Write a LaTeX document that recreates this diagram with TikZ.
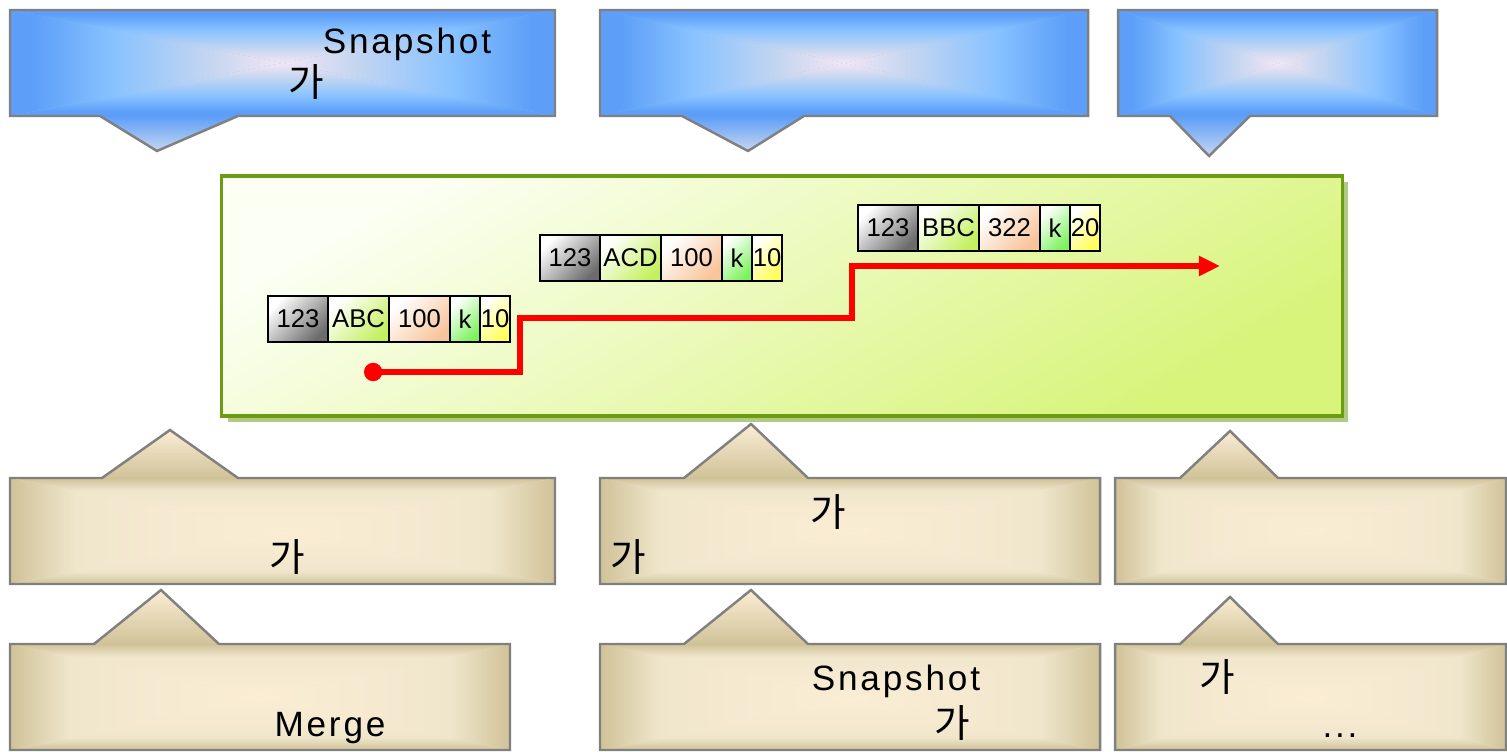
\documentclass[tikz,border=0pt]{standalone}
\usepackage{fontspec}
\setmainfont{Liberation Sans}
\newfontfamily\krfont{Noto Sans CJK KR}
\usepackage{tikz}
\usetikzlibrary{arrows.meta,positioning,shadows}

\definecolor{calloutblue}{HTML}{5C9EF8}
\definecolor{calloutsky}{HTML}{88C2FF}
\definecolor{calloutpale}{HTML}{C6D6F0}
\definecolor{calloutpink}{HTML}{F4E6F4}
\definecolor{callouttan}{HTML}{D0C298}
\definecolor{calloutbeige}{HTML}{EFE6CC}
\definecolor{calloutcream}{HTML}{FAEDD4}
\definecolor{calloutedge}{HTML}{808080}
\definecolor{panelgreen}{HTML}{6C9C12}
\definecolor{paneltop}{HTML}{FCFFF4}
\definecolor{panelbottom}{HTML}{D8F47A}
\definecolor{shadowgreen}{HTML}{B2CA84}
\definecolor{cellgray}{HTML}{6C6C6C}
\definecolor{cellabc}{HTML}{C4F060}
\definecolor{cellnum}{HTML}{F8C49A}
\definecolor{cellk}{HTML}{7CF25C}
\definecolor{cellten}{HTML}{FFFF58}

% edge at the top (75bp), centre at the bottom (25bp)
\pgfdeclareverticalshading{bluefall}{100bp}{color(0bp)=(calloutpink); color(25bp)=(calloutpink); color(38bp)=(calloutpale); color(56bp)=(calloutsky); color(71bp)=(calloutblue); color(100bp)=(calloutblue)}
\pgfdeclareverticalshading{tanfall}{100bp}{color(0bp)=(calloutcream); color(25bp)=(calloutcream); color(50bp)=(calloutbeige!50!calloutcream); color(63bp)=(calloutbeige); color(75bp)=(callouttan); color(100bp)=(callouttan)}

\begin{document}
\begin{tikzpicture}[x=0.01cm,y=-0.01cm,
  outline/.style={draw=calloutedge,line width=0.7pt},
  label/.style={inner sep=0pt,anchor=base,font=\fontsize{10}{12}\selectfont\addfontfeature{LetterSpace=8}},
  hangul/.style={inner sep=0pt,font=\krfont\fontsize{11}{12}\selectfont},
  panel/.style={draw=panelgreen,line width=1pt,minimum width=11.2cm,minimum height=2.4cm,top color=paneltop,bottom color=panelbottom,shading angle=30,drop shadow={shadow xshift=0.06cm,shadow yshift=-0.06cm,fill=shadowgreen,opacity=1}},
  cell/.style={draw=black,line width=0.6pt,outer sep=0pt,inner sep=0pt,minimum height=0.46cm,font=\fontsize{7.3}{8}\selectfont},
  cgray/.style={cell,minimum width=0.6cm,top color=white,bottom color=cellgray,shading angle=45},
  cabc/.style={cell,minimum width=0.61cm,top color=white,bottom color=cellabc,shading angle=45},
  cnum/.style={cell,minimum width=0.61cm,top color=white,bottom color=cellnum,shading angle=45},
  ck/.style={cell,minimum width=0.3cm,top color=white,bottom color=cellk,shading angle=45},
  cten/.style={cell,minimum width=0.3cm,top color=white,bottom color=cellten,shading angle=45},
  trail/.style={red,line width=1.7pt,{Circle[length=5.2pt]}-{Triangle[length=6pt,width=5.4pt]}}]
\useasboundingbox (0,0) rectangle (1507,752);

% top callouts
\foreach \lx/\rx/\ba/\tx/\bb/\tipy in {10/555/100/157/238/151, 600/1088/682/748/804/151, 1118/1437/1170/1209/1250/156}{
  \coordinate (mid) at ({(\lx+\rx)/2},63);
  \fill[calloutsky] (\lx,10) rectangle (\rx,116);
  \shade[shading=bluefall] (\lx,10) -- (\rx,10) -- (mid) -- cycle;
  \shade[shading=bluefall,shading angle=90] (\lx,10) -- (\lx,116) -- (mid) -- cycle;
  \shade[shading=bluefall,shading angle=180] (\lx,116) -- (\rx,116) -- (mid) -- cycle;
  \shade[shading=bluefall,shading angle=270] (\rx,10) -- (\rx,116) -- (mid) -- cycle;
  \shade[top color=calloutblue,bottom color=calloutpale] (\ba,116) -- (\bb,116) -- (\tx,\tipy) -- cycle;
  \draw[outline] (\lx,10) -- (\rx,10) -- (\rx,116) -- (\bb,116) -- (\tx,\tipy) -- (\ba,116) -- (\lx,116) -- cycle;
}

% bottom callouts
\foreach \lx/\rx/\ba/\tx/\bb/\ty/\by/\tipy in {10/555/102/170/238/478/584/430, 600/1100/684/751/808/478/584/424, 1115/1506/1180/1230/1278/478/584/431,
  10/510/94/161/219/644/750/590, 600/1100/684/751/808/644/750/590, 1115/1506/1180/1230/1278/644/750/597}{
  \coordinate (mid) at ({(\lx+\rx)/2},{(\ty+\by)/2});
  \fill[calloutbeige] (\lx,\ty) rectangle (\rx,\by);
  \shade[shading=tanfall] (\lx,\ty) -- (\rx,\ty) -- (mid) -- cycle;
  \shade[shading=tanfall,shading angle=90] (\lx,\ty) -- (\lx,\by) -- (mid) -- cycle;
  \shade[shading=tanfall,shading angle=180] (\lx,\by) -- (\rx,\by) -- (mid) -- cycle;
  \shade[shading=tanfall,shading angle=270] (\rx,\ty) -- (\rx,\by) -- (mid) -- cycle;
  \shade[top color=calloutcream,bottom color=callouttan] (\ba,\ty) -- (\tx,\tipy) -- (\bb,\ty) -- cycle;
  \draw[outline] (\lx,\ty) -- (\ba,\ty) -- (\tx,\tipy) -- (\bb,\ty) -- (\rx,\ty) -- (\rx,\by) -- (\lx,\by) -- cycle;
}

% log panel
\node[panel] (board) at (782,296) {};

\node[cgray,anchor=west] (a1) at (268,319) {123}; \node[cabc,right=0pt of a1] (b1) {ABC}; \node[cnum,right=0pt of b1] (c1) {100}; \node[ck,right=0pt of c1] (d1) {k}; \node[cten,right=0pt of d1] (e1) {10};
\node[cgray,anchor=west] (a2) at (540,258) {123}; \node[cabc,right=0pt of a2] (b2) {ACD}; \node[cnum,right=0pt of b2] (c2) {100}; \node[ck,right=0pt of c2] (d2) {k}; \node[cten,right=0pt of d2] (e2) {10};
\node[cgray,anchor=west] (a3) at (858,228) {123}; \node[cabc,right=0pt of a3] (b3) {BBC}; \node[cnum,right=0pt of b3] (c3) {322}; \node[ck,right=0pt of c3] (d3) {k}; \node[cten,right=0pt of d3] (e3) {20};

\coordinate (start) at (364,372); \coordinate (rise1) at (520,318); \coordinate (rise2) at (852,318); \coordinate (finish) at (1220,266);
\draw[trail] (start) -| (rise1) -- (rise2) |- (finish);

% texts
\node[label] (snaptop) at (407,54) {Snapshot}; \node[hangul] (gatop) at (306,82) {가};
\node[hangul] (gaone) at (287,557) {가};
\node[hangul] (gatwo) at (828,512) {가}; \node[hangul] (gathree) at (628,557) {가};
\node[label] (merge) at (330,736) {Merge};
\node[label] (snapbot) at (896,690) {Snapshot}; \node[hangul] (gafour) at (952,723) {가};
\node[hangul] (gafive) at (1217,677) {가}; \node[label] (more) at (1340,737) {...};
\end{tikzpicture}
\end{document}
